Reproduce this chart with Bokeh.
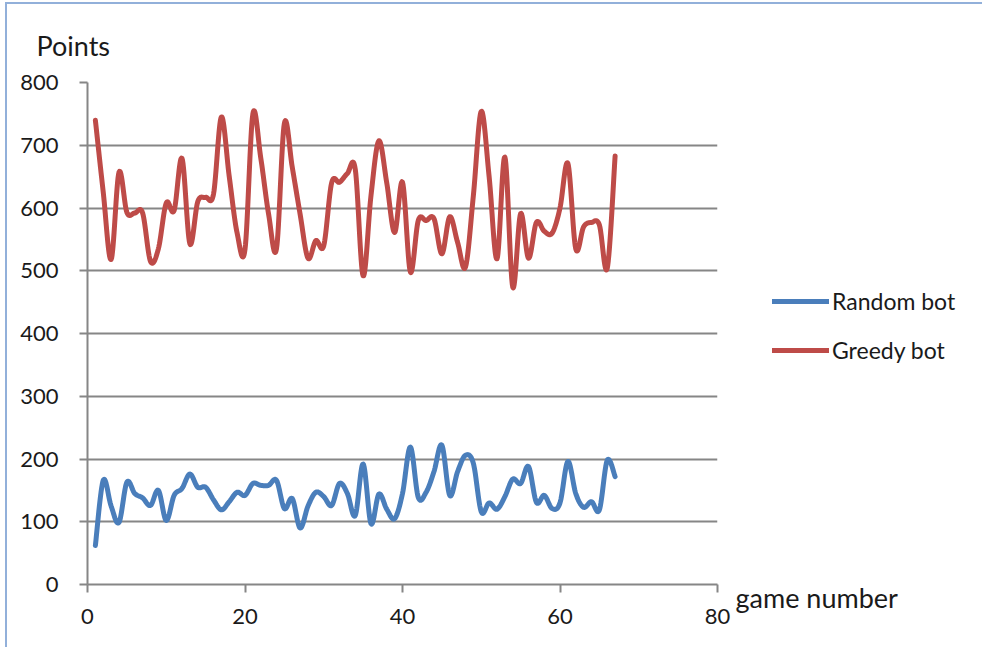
import numpy as np
from bokeh.plotting import figure
from bokeh.models import Legend, LegendItem, Title, FixedTicker, Range1d
from bokeh.embed import file_html
from bokeh.resources import INLINE

# Points per game, games 1..67
games = list(range(1, 68))
random_bot = [62, 166, 125, 99, 163, 145, 138, 126, 150, 102,
              142, 153, 176, 155, 155, 135, 119, 132, 147, 142,
              161, 158, 158, 166, 121, 137, 90, 125, 147, 140,
              126, 161, 145, 110, 192, 97, 144, 120, 105, 145,
              219, 139, 147, 180, 222, 142, 180, 206, 193, 116,
              130, 120, 140, 168, 161, 188, 131, 142, 121, 130,
              196, 145, 123, 132, 119, 198, 172]
greedy_bot = [740, 625, 518, 657, 593, 592, 592, 515, 535, 608,
              596, 679, 543, 610, 617, 622, 745, 650, 560, 534,
              750, 680, 590, 535, 735, 665, 590, 520, 548, 540,
              640, 641, 655, 662, 492, 620, 707, 640, 561, 641,
              498, 580, 580, 583, 527, 586, 545, 506, 620, 754,
              650, 519, 681, 474, 591, 520, 577, 563, 560, 600,
              671, 535, 570, 577, 573, 504, 683]

series_names = ["Random bot", "Greedy bot"]
series_colors = ["#4A7EBB", "#BE4B48"]

x_ticks = [0, 20, 40, 60, 80]
y_ticks = [0, 100, 200, 300, 400, 500, 600, 700, 800]


def smooth(xs, ys, steps=16):
    """Catmull-Rom style cubic Bezier smoothing through every point."""
    xs = np.asarray(xs, float)
    ys = np.asarray(ys, float)
    n = len(xs)
    px = np.concatenate([[xs[0]], xs, [xs[-1]]])
    py = np.concatenate([[ys[0]], ys, [ys[-1]]])
    out_x, out_y = [], []
    t = np.linspace(0, 1, steps, endpoint=False)
    for i in range(n - 1):
        p0 = np.array([px[i + 1], py[i + 1]])
        p3 = np.array([px[i + 2], py[i + 2]])
        c1 = p0 + (p3 - np.array([px[i], py[i]])) / 6.0
        c2 = p3 - (np.array([px[i + 3], py[i + 3]]) - p0) / 6.0
        b = ((1 - t) ** 3)[:, None] * p0 + (3 * (1 - t) ** 2 * t)[:, None] * c1 \
            + (3 * (1 - t) * t ** 2)[:, None] * c2 + (t ** 3)[:, None] * p3
        out_x.extend(b[:, 0])
        out_y.extend(b[:, 1])
    out_x.append(xs[-1])
    out_y.append(ys[-1])
    return out_x, out_y


FONT = "Lato"
GRID = "#868686"
TEXT = "#1a1a1a"
EDGE = "#92B0DA"

p = figure(
    frame_width=630, frame_height=502,
    min_border_left=80, min_border_right=261,
    min_border_top=78, min_border_bottom=63,
    x_range=Range1d(0, 80), y_range=Range1d(0, 800),
    output_backend="svg", toolbar_location=None,
)
p.margin = (2, 0, 0, 5)
p.styles = {"border-left": f"2px solid {EDGE}", "border-top": f"2px solid {EDGE}",
            "border-right": f"2px solid {EDGE}"}
p.background_fill_color = "white"
p.border_fill_color = "white"
p.outline_line_color = None

p.xgrid.grid_line_color = None
p.ygrid.ticker = FixedTicker(ticks=y_ticks)
p.ygrid.grid_line_color = GRID
p.ygrid.grid_line_width = 2

for ax in (p.xaxis[0], p.yaxis[0]):
    ax.axis_line_color = GRID
    ax.axis_line_width = 2
    ax.major_tick_line_color = GRID
    ax.major_tick_line_width = 2
    ax.minor_tick_line_color = None
    ax.major_tick_in = 0
    ax.major_tick_out = 8
    ax.major_label_text_font = FONT
    ax.major_label_text_font_size = "22px"
    ax.major_label_text_color = TEXT

p.xaxis.ticker = FixedTicker(ticks=x_ticks)
p.yaxis.ticker = FixedTicker(ticks=y_ticks)
p.xaxis.major_label_standoff = 16
p.yaxis.major_label_standoff = 21

renderers = []
for ys, color in zip([random_bot, greedy_bot], series_colors):
    sx, sy = smooth(games, ys)
    r = p.line(sx, sy, line_color=color, line_width=5, line_join="round",
               line_cap="round")
    renderers.append(r)

legend = Legend(
    items=[LegendItem(label=n, renderers=[r]) for n, r in zip(series_names, renderers)],
    location=(55, 220),
    border_line_color=None, background_fill_alpha=0,
    padding=0, margin=0, spacing=21,
    glyph_width=57, glyph_height=22, label_height=22, label_standoff=3,
    label_text_font=FONT, label_text_font_size="23px", label_text_color=TEXT,
)
p.add_layout(legend, "right")

# y axis title sits above the axis, left aligned
p.add_layout(Title(text="Points", align="left", offset=-51, standoff=41,
                   text_font=FONT, text_font_size="27px",
                   text_font_style="normal", text_color=TEXT), "above")

# x axis title sits to the right of the axis end, level with the axis
p.add_layout(Title(text="game number", align="left", offset=648, standoff=-91,
                   vertical_align="top",
                   text_font=FONT, text_font_size="27px",
                   text_font_style="normal", text_color=TEXT), "below")

open("out.html", "w").write(file_html(p, INLINE))
